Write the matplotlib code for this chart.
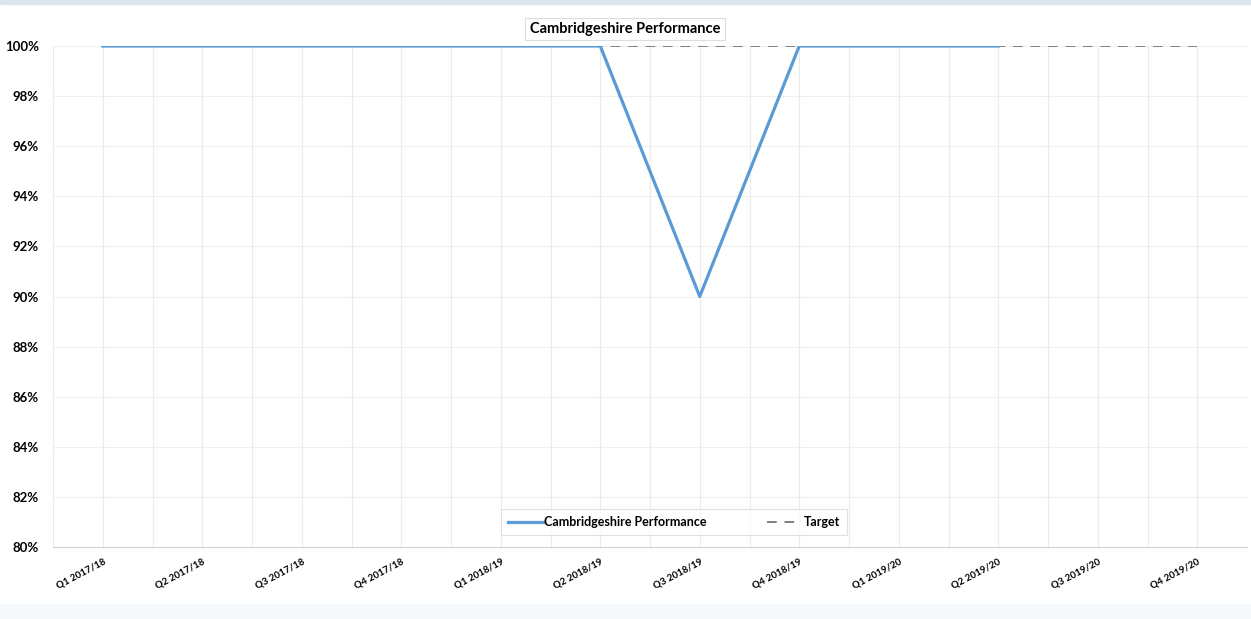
import matplotlib.pyplot as plt
import numpy as np

quarters = ['Q1 2017/18', 'Q2 2017/18', 'Q3 2017/18', 'Q4 2017/18',
            'Q1 2018/19', 'Q2 2018/19', 'Q3 2018/19', 'Q4 2018/19',
            'Q1 2019/20', 'Q2 2019/20', 'Q3 2019/20', 'Q4 2019/20']
performance = [1.00, 1.00, 1.00, 1.00, 1.00, 1.00, 0.90, 1.00, 1.00, 1.00]
target = [1.00] * 12
yticks = [0.80, 0.82, 0.84, 0.86, 0.88, 0.90, 0.92, 0.94, 0.96, 0.98, 1.00]

plt.rcParams['font.family'] = ['Lato', 'DejaVu Sans']

fig = plt.figure(figsize=(12.51, 6.19), dpi=100)
ax = fig.add_axes([53 / 1251, 1 - 547 / 619, 1194 / 1251, 501 / 619])

x = np.arange(len(quarters))
ax.plot(x, target, color='#7f7f7f', lw=1.4, ls=(0, (5, 4)), label='Target', zorder=2)
ax.plot(x[:len(performance)], performance, color='#5b9bd5', lw=2.3,
        label='Cambridgeshire Performance', zorder=3)

ax.set_xlim(-0.5, len(quarters) - 0.5)
ax.set_ylim(0.80, 1.00)
ax.set_yticks(yticks)
ax.set_yticklabels(['{:.0f}%'.format(v * 100) for v in yticks],
                   fontsize=9.5, fontweight='bold')
ax.set_xticks(x)
ax.set_xticklabels(quarters, rotation=28, ha='right', rotation_mode='anchor',
                   fontsize=7, fontweight='bold')
ax.set_xticks(np.arange(-0.5, len(quarters), 1.0), minor=True)
ax.tick_params(axis='both', length=0, which='both')
ax.tick_params(axis='x', pad=7)
ax.tick_params(axis='y', pad=10)

ax.grid(True, which='both', axis='x', color='#ebebeb', lw=0.8)
ax.grid(True, which='major', axis='y', color='#efefef', lw=0.8)
for s in ['top', 'right', 'left']:
    ax.spines[s].set_visible(False)
ax.spines['bottom'].set_color('#d0d0d0')

ax.text(0.479, 1.034, 'Cambridgeshire Performance', transform=ax.transAxes,
        ha='center', va='center', fontsize=10.5, fontweight='bold',
        bbox=dict(boxstyle='square,pad=0.3', fc='white', ec='#dddddd', lw=0.8))

handles, labels = ax.get_legend_handles_labels()
leg = ax.legend(handles[::-1], labels[::-1], loc='lower center',
                bbox_to_anchor=(0.52, 0.024), ncol=2, frameon=True,
                fancybox=False, edgecolor='#d9d9d9', fontsize=9,
                handlelength=2.8, handletextpad=0.15, columnspacing=4.8,
                borderpad=0.55, borderaxespad=0)
for t in leg.get_texts():
    t.set_fontweight('bold')
leg.get_frame().set_linewidth(0.8)

fig.patches.append(plt.Rectangle((0, 0.993), 1, 0.007, transform=fig.transFigure,
                                 color='#dde6ef', zorder=0))
fig.patches.append(plt.Rectangle((0, 0), 1, 0.025, transform=fig.transFigure,
                                 color='#f5f9fc', zorder=0))

fig.savefig('out.png', dpi=100)
